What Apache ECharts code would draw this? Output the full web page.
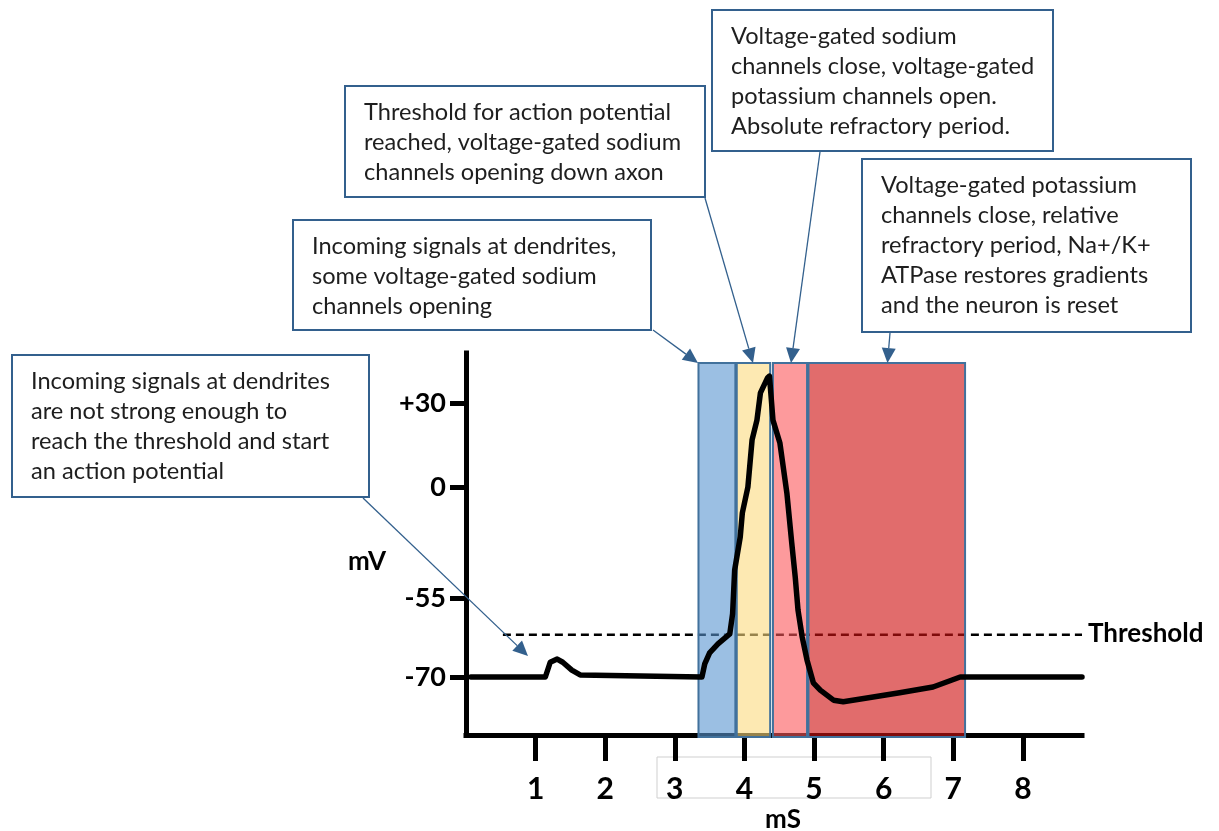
<!DOCTYPE html>
<html><head><meta charset="utf-8">
<script src="https://cdn.jsdelivr.net/npm/echarts@6/dist/echarts.min.js"></script>
<style>html,body{margin:0;padding:0;background:#fff}#chart{width:1219px;height:831px}</style>
</head><body><div id="chart"></div>
<script>
// ---- data ----
const timeMs = [0.07,1.14,1.21,1.31,1.39,1.52,1.64,3.39,3.43,3.50,3.62,3.79,3.83,3.86,3.94,3.97,4.05,4.11,4.18,4.23,4.33,4.36,4.41,4.51,4.61,4.68,4.73,4.77,4.83,4.90,4.99,5.09,5.28,5.42,5.76,6.23,6.71,7.10,8.85];
const voltageMv = [-70,-70,-67.2,-66.6,-67.2,-68.7,-69.6,-70,-67.5,-65.4,-63.7,-61.8,-58.0,-41.1,-24.8,-12.9,0,16.8,23.9,33.6,38.9,39.6,23.9,15.7,-3.0,-27.8,-44.6,-57.3,-62.4,-66.8,-71.1,-72.5,-74.4,-74.7,-74.0,-73.0,-71.9,-70,-70];
const thresholdMv = -62;
const thresholdFromMs = 0.53;
const thresholdToMs = 8.85;
const bandStartMs = [3.34, 3.89, 4.41, 4.92];
const bandEndMs   = [3.87, 4.37, 4.90, 7.17];
const bandTopMv = 44.3;
const xTicks = [1,2,3,4,5,6,7,8];
const yTickMv = [-70,-55,0,30];
const yTickLabels = ['-70','-55','0','+30'];
const noteTexts = [
  ['Incoming signals at dendrites','are not strong enough to','reach the threshold and start','an action potential'],
  ['Incoming signals at dendrites,','some voltage-gated sodium','channels opening'],
  ['Threshold for action potential','reached, voltage-gated sodium','channels opening down axon'],
  ['Voltage-gated sodium','channels close, voltage-gated','potassium channels open.','Absolute refractory period.'],
  ['Voltage-gated potassium','channels close, relative','refractory period, Na+/K+','ATPase restores gradients','and the neuron is reset']
];

// ---- schematic (non-linear) voltage scale: tick anchors are spaced as drawn ----
const anchorSpacing = [0, 79, 190, 274];
function toU(mv){
  const i = mv < yTickMv[1] ? 0 : (mv < yTickMv[2] ? 1 : 2);
  const m0 = yTickMv[i], m1 = yTickMv[i+1], u0 = anchorSpacing[i], u1 = anchorSpacing[i+1];
  return u0 + (mv - m0) * (u1 - u0) / (m1 - m0);
}
const yMinU = -58, yMaxU = 324;
const yTickU = yTickMv.map(toU);

const chart = echarts.init(document.getElementById('chart'), null, {renderer:'canvas'});

const bandFills = ['rgba(88,148,208,0.6)','rgba(252,218,127,0.6)','rgba(252,87,90,0.6)','rgba(206,18,18,0.62)'];

// annotation layout
const noteBoxes = [[12,355,357,142],[293,220,358,110],[345,86,360,111],[712,10,341,141],[862,159,329,173]];
const noteArrows = [[363,498,528,656],[653,330,698,363],[705,198,753,363],[820,152,791,363],[890,333,887.5,363]];
const noteColor = '#33608d';
const graphics = [];
noteBoxes.forEach((b,i)=>{
  graphics.push({type:'rect', z:100, shape:{x:b[0], y:b[1], width:b[2], height:b[3]},
    style:{fill:'#fff', stroke:noteColor, lineWidth:2}});
  graphics.push({type:'text', z:101, x:b[0]+19, y:b[1]+11,
    style:{text:noteTexts[i].join('\n'), fontFamily:'Lato', fontSize:23.6, lineHeight:30, fill:'#1e1e1e', verticalAlign:'top', align:'left'}});
  const a = noteArrows[i];
  const dx = a[2]-a[0], dy = a[3]-a[1], len = Math.hypot(dx,dy);
  const ux = dx/len, uy = dy/len, hl = 15, hw = 7;
  const bx = a[2]-ux*hl, by = a[3]-uy*hl;
  graphics.push({type:'line', z:100, shape:{x1:a[0], y1:a[1], x2:bx, y2:by}, style:{stroke:noteColor, lineWidth:1.3}});
  graphics.push({type:'polygon', z:100, shape:{points:[[a[2],a[3]],[bx-uy*hw, by+ux*hw],[bx+uy*hw, by-ux*hw]]}, style:{fill:noteColor}});
});
graphics.push({type:'rect', z:0, shape:{x:657, y:757, width:274, height:41}, style:{fill:'none', stroke:'#cfcfcf', lineWidth:1}});
graphics.push({type:'text', z:101, x:367, y:562, style:{text:'mV', fontFamily:'Lato', fontWeight:'bold', fontSize:26, fill:'#000', align:'center', verticalAlign:'middle'}});
graphics.push({type:'text', z:101, x:783, y:820, style:{text:'mS', fontFamily:'Lato', fontWeight:'bold', fontSize:26, fill:'#000', align:'center', verticalAlign:'middle'}});
graphics.push({type:'text', z:101, x:1088, y:634, style:{text:'Threshold', fontFamily:'Lato', fontWeight:'bold', fontSize:26, fill:'#000', align:'left', verticalAlign:'middle'}});

const option = {
  animation:false,
  backgroundColor:'#fff',
  grid:{left:466, right:137, top:353, bottom:96, containLabel:false},
  xAxis:{type:'value', min:0, max:8.85, interval:1,
    axisLine:{onZero:false, lineStyle:{color:'#000', width:5, cap:'square'}},
    axisTick:{show:true, customValues:xTicks, length:26, lineStyle:{color:'#000', width:5}},
    axisLabel:{customValues:xTicks, margin:39, fontFamily:'Lato', fontWeight:'bold', fontSize:30, color:'#000',
      formatter:v=> (v>0 ? String(v) : '')},
    splitLine:{show:false}},
  yAxis:{type:'value', min:yMinU, max:yMaxU,
    axisLine:{show:true, onZero:false, lineStyle:{color:'#000', width:5, cap:'square'}},
    axisTick:{show:true, customValues:yTickU, length:16, lineStyle:{color:'#000', width:5}},
    axisLabel:{customValues:yTickU, margin:20, fontFamily:'Lato', fontWeight:'bold', fontSize:27, color:'#000',
      formatter:v=>{const i = yTickU.findIndex(u=>Math.abs(u-v)<0.01); return i>=0 ? yTickLabels[i] : '';}},
    splitLine:{show:false}},
  series:[
    {type:'line', z:1, silent:true, symbol:'none',
      data:[[thresholdFromMs, toU(thresholdMv)],[thresholdToMs, toU(thresholdMv)]],
      lineStyle:{color:'#000', width:2.5, type:[8,5]}},
    {type:'custom', z:2, silent:true,
      data: bandStartMs.map((s,i)=>[s, bandEndMs[i], i]),
      encode:{x:[0,1]},
      renderItem:(params, api)=>{
        const p0 = api.coord([api.value(0), toU(bandTopMv)]);
        const p1 = api.coord([api.value(1), yMinU]);
        return {type:'rect', shape:{x:p0[0], y:p0[1], width:p1[0]-p0[0], height:p1[1]-p0[1]+2},
          style:{fill:bandFills[api.value(2)], stroke:'#41719c', lineWidth:2}};
      }},
    {type:'line', z:3, silent:true, symbol:'none', smooth:false,
      data: timeMs.map((t,i)=>[t, toU(voltageMv[i])]),
      lineStyle:{color:'#000', width:5.5, join:'round', cap:'round'}}
  ],
  graphic: graphics
};
chart.setOption(option);
</script>
</body></html>
